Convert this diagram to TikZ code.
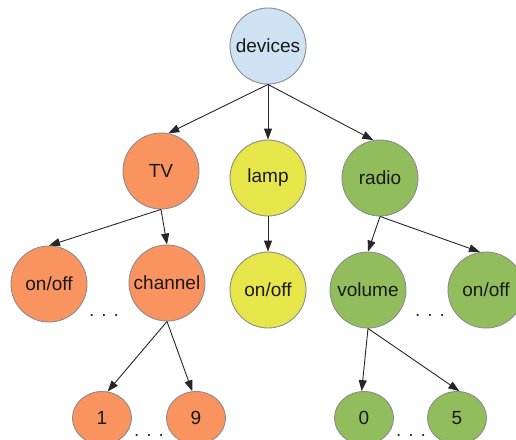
\documentclass[tikz,border=0pt]{standalone}
\usepackage{fontspec}
\setmainfont{Liberation Sans}
\usetikzlibrary{shapes.geometric,arrows.meta}
\definecolor{edgegray}{HTML}{8C8C8C}
\definecolor{blueish}{HTML}{CFE2F3}
\definecolor{orangeish}{HTML}{F9935F}
\definecolor{yellowish}{HTML}{E6E64A}
\definecolor{greenish}{HTML}{92BD5C}
\definecolor{dotblue}{HTML}{1F2A55}
\tikzset{
  item/.style={circle, draw=edgegray, line width=0.9pt, minimum size=76pt, inner sep=0pt,
    font=\fontsize{19}{22}\selectfont, text=black!90},
  leaf/.style={ellipse, draw=edgegray, line width=0.9pt, minimum width=59pt, minimum height=53pt,
    inner sep=0pt, font=\fontsize{19}{22}\selectfont, text=black!90},
  link/.style={draw=black!85, line width=0.9pt, -{Triangle[length=11pt,width=8pt]}},
  dots/.style={anchor=base, inner sep=0pt, text depth=0pt, text height=3pt,
    text=dotblue, font=\fontsize{19}{22}\selectfont}
}
\begin{document}
\begin{tikzpicture}[x=1pt, y=-1pt]
  \useasboundingbox (0,0) rectangle (516,439);
  \clip (0,0) rectangle (516,439);

  % top level
  \node[item, fill=blueish] (dev) at (268,46) {devices};

  % device kinds
  \node[item, fill=orangeish] (tv) at (161,171) {TV};
  \node[item, fill=yellowish] (lamp) at (268,178) {lamp};
  \node[item, fill=greenish] (radio) at (380,178) {radio};

  % controls
  \node[item, fill=orangeish] (tvonoff) at (49,284) {on/off};
  \node[item, fill=orangeish] (channel) at (167,283) {channel};
  \node[item, fill=yellowish] (lamponoff) at (268,290) {on/off};
  \node[item, fill=greenish] (volume) at (368,290) {volume};
  \node[item, fill=greenish] (radioonoff) at (486,290) {on/off};

  % values
  \node[leaf, fill=orangeish] (c1) at (102,418) {1};
  \node[leaf, fill=orangeish] (c9) at (196,418) {9};
  \node[leaf, fill=greenish] (v0) at (364,418) {0};
  \node[leaf, fill=greenish] (v5) at (457,418) {5};

  % ellipsis marks
  \node[dots] (gapa) at (104,316) {.\hspace{7pt}.\hspace{7pt}.};
  \node[dots] (gapb) at (430,316) {.\hspace{7pt}.\hspace{7pt}.};
  \node[dots] (gapc) at (149,436) {.\hspace{7pt}.\hspace{7pt}.};
  \node[dots] (gapd) at (411,436) {.\hspace{7pt}.\hspace{7pt}.};

  % connectors
  \draw[link] (dev.south) -- (tv.79);
  \draw[link] (dev.south) -- (lamp.north);
  \draw[link] (dev.south) -- (radio.100);

  \draw[link] (tv.south) -- (tvonoff.north);
  \draw[link] (tv.south) -- (channel.north);
  \draw[link] (lamp.south) -- (lamponoff.north);
  \draw[link] (radio.south) -- (volume.north);
  \draw[link] (radio.south) -- (radioonoff.99);

  \draw[link] (channel.south) -- (c1.78);
  \draw[link] (channel.south) -- (c9.98);
  \draw[link] (volume.south) -- (v0.95);
  \draw[link] (volume.south) -- (v5.85);
\end{tikzpicture}
\end{document}
